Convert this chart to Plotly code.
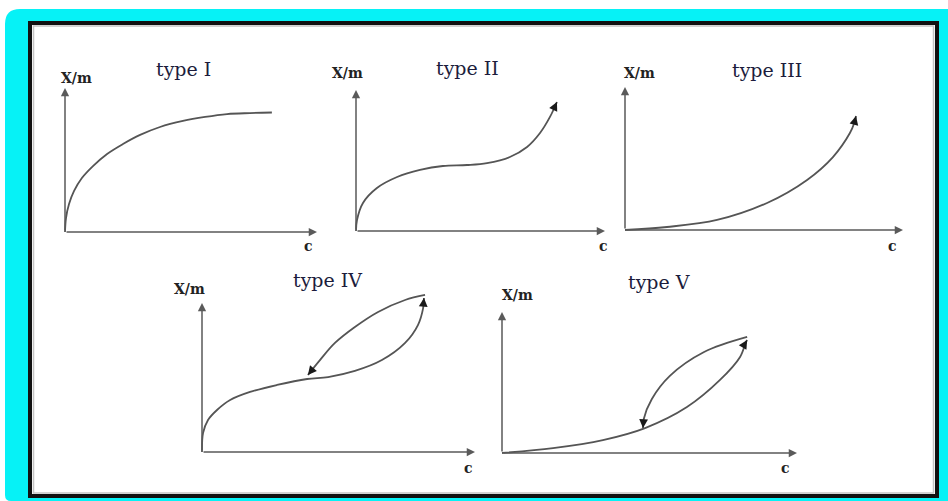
import math
import plotly.graph_objects as go

# ---------------------------------------------------------------
# Adsorption isotherm types (X/m against concentration c)
# ---------------------------------------------------------------
titles = ["type I", "type II", "type III", "type IV", "type V"]
y_label = "X/m"
x_label = "c"

# type I - monolayer, levelling off
type1_c = [0.0, 0.04, 0.16, 0.36, 0.67, 1.11, 1.67, 2.30, 2.98, 3.77, 4.68, 5.56, 6.43, 7.34, 8.21]
type1_xm = [0.0, 0.97, 1.94, 2.85, 3.75, 4.58, 5.42, 6.11, 6.74, 7.29, 7.71, 7.99, 8.19, 8.26, 8.30]

# type II - monolayer then multilayer
type2_c = [0.0, 0.04, 0.28, 0.84, 1.65, 2.57, 3.49, 4.46, 5.26, 6.18, 6.87, 7.39, 7.79, 8.07]
type2_xm = [0.0, 0.78, 1.99, 3.05, 3.83, 4.33, 4.61, 4.68, 4.82, 5.25, 5.96, 6.95, 8.09, 9.15]

# type III - weak adsorbate/adsorbent interaction
type3_c = [0.0, 1.51, 3.31, 5.11, 6.55, 7.48, 8.09, 8.25, 8.31]
type3_xm = [0.0, 0.21, 0.70, 1.89, 3.50, 5.10, 6.78, 7.50, 7.97]

# type IV - adsorption branch and desorption (hysteresis) branch
type4_ads_c = [0.0, 0.04, 0.22, 0.55, 1.03, 1.76, 2.75, 3.85, 4.62, 5.60, 6.59, 7.44, 7.91, 8.10, 8.13]
type4_ads_xm = [0.0, 1.28, 2.15, 2.82, 3.49, 4.03, 4.50, 4.90, 5.03, 5.44, 6.17, 7.32, 8.52, 9.66, 10.34]
type4_des_c = [8.17, 7.44, 6.45, 5.60, 4.87, 4.32, 3.88]
type4_des_xm = [10.54, 10.20, 9.40, 8.39, 7.32, 6.17, 5.17]

# type V - weak interaction with hysteresis
type5_ads_c = [0.0, 1.73, 3.42, 4.85, 6.27, 7.39, 8.07, 8.27, 8.31]
type5_ads_xm = [0.0, 0.35, 0.92, 1.77, 3.26, 5.18, 6.81, 7.87, 8.01]
type5_des_c = [8.31, 6.85, 5.69, 5.08, 4.80, 4.78]
type5_des_xm = [8.23, 7.16, 5.47, 3.83, 2.38, 1.77]

# ---------------------------------------------------------------
# Page geometry (pixels)
# ---------------------------------------------------------------
W, H = 948, 501
# origin x, origin y, x-axis end, y-axis top
panels = [
    (65, 232, 317, 88),
    (356, 231, 605, 90),
    (625, 230, 903, 87),
    (202, 452, 475, 303),
    (502, 453, 797, 312),
]
X_RANGE = (-0.6, 11.0)
Y_RANGE = (-0.6, 11.2)
AXIS_LEN = 10.0

CURVE = "#555555"
AXIS = "#5a5a5a"
HEAD = "#1a1a1a"
TITLE = "#1c1c3c"
LABEL = "#222222"
SERIF = "DejaVu Serif"


def fx(x):
    return x / W


def fy(y):
    return 1 - y / H


fig = go.Figure()
layout_axes = {}
annotations = []
scales = []

for k, (ox, oy, xe, yt) in enumerate(panels):
    sx = (xe - ox) / AXIS_LEN
    sy = (oy - yt) / AXIS_LEN
    scales.append((sx, sy))
    left = ox + X_RANGE[0] * sx
    right = ox + X_RANGE[1] * sx
    bottom = oy - Y_RANGE[0] * sy
    top = oy - Y_RANGE[1] * sy
    n = "" if k == 0 else str(k + 1)
    layout_axes["xaxis" + n] = dict(domain=[fx(left), fx(right)], range=list(X_RANGE),
                                    visible=False, fixedrange=True, anchor="y" + n)
    layout_axes["yaxis" + n] = dict(domain=[fy(bottom), fy(top)], range=list(Y_RANGE),
                                    visible=False, fixedrange=True, anchor="x" + n)
    xa, ya = "x" + n, "y" + n
    # axis lines with arrowheads
    for (tx, ty) in [(AXIS_LEN, 0), (0, AXIS_LEN)]:
        annotations.append(dict(x=tx, y=ty, ax=0, ay=0, xref=xa, yref=ya,
                                axref=xa, ayref=ya, text="", showarrow=True,
                                arrowhead=2, arrowsize=1.1, arrowwidth=1.5,
                                arrowcolor=AXIS))


def axes_of(k):
    n = "" if k == 0 else str(k + 1)
    return "x" + n, "y" + n


def curve(k, c, xm):
    xa, ya = axes_of(k)
    fig.add_trace(go.Scatter(x=c, y=xm, mode="lines", xaxis=xa, yaxis=ya,
                             line=dict(color=CURVE, width=1.8, shape="spline", smoothing=1.0),
                             hoverinfo="skip", showlegend=False))


def end_arrow(k, c, xm, tip, prev):
    xa, ya = axes_of(k)
    sx, sy = scales[k]
    dx = (c[tip] - c[prev]) * sx
    dy = (xm[tip] - xm[prev]) * sy
    d = math.hypot(dx, dy)
    annotations.append(dict(x=c[tip], y=xm[tip], xref=xa, yref=ya,
                            ax=-dx / d * 9, ay=dy / d * 9, text="", showarrow=True,
                            arrowhead=2, arrowsize=1.1, arrowwidth=1.6,
                            arrowcolor=HEAD, standoff=0))


curve(0, type1_c, type1_xm)
curve(1, type2_c, type2_xm)
end_arrow(1, type2_c, type2_xm, -1, -2)
curve(2, type3_c, type3_xm)
end_arrow(2, type3_c, type3_xm, -1, -2)
curve(3, type4_ads_c, type4_ads_xm)
end_arrow(3, type4_ads_c, type4_ads_xm, -1, -2)
curve(3, type4_des_c, type4_des_xm)
end_arrow(3, type4_des_c, type4_des_xm, -1, -2)
curve(4, type5_ads_c, type5_ads_xm)
end_arrow(4, type5_ads_c, type5_ads_xm, -1, -2)
curve(4, type5_des_c, type5_des_xm)
end_arrow(4, type5_des_c, type5_des_xm, -1, -2)

# panel titles and axis names (pixel centres)
title_pos = [(183, 69), (467, 68), (767, 70), (327, 280), (659, 282)]
ylab_pos = [(76, 78), (347, 73), (639, 73), (189, 289), (517, 295)]
xlab_pos = [(308, 246), (603, 246), (892, 246), (468, 468), (785, 468)]

for t, (x, y) in zip(titles, title_pos):
    annotations.append(dict(x=fx(x), y=fy(y), xref="paper", yref="paper", text=t,
                            showarrow=False, xanchor="center", yanchor="middle",
                            font=dict(family=SERIF, size=19, color=TITLE)))
for (x, y) in ylab_pos:
    annotations.append(dict(x=fx(x), y=fy(y), xref="paper", yref="paper", text=y_label,
                            showarrow=False, xanchor="center", yanchor="middle",
                            font=dict(family=SERIF, size=14, color=LABEL, weight="bold")))
for (x, y) in xlab_pos:
    annotations.append(dict(x=fx(x), y=fy(y), xref="paper", yref="paper", text=x_label,
                            showarrow=False, xanchor="center", yanchor="middle",
                            font=dict(family=SERIF, size=14, color=LABEL, weight="bold")))

# frame: rounded cyan band and a black-bordered white card
x0, y0, x1, y1, r, rb = 5, 9, W, H, 15, 6
band = (f"M {fx(x0)},{fy(y0 + r)} Q {fx(x0)},{fy(y0)} {fx(x0 + r)},{fy(y0)} "
        f"L {fx(x1)},{fy(y0)} L {fx(x1)},{fy(y1)} L {fx(x0 + rb)},{fy(y1)} "
        f"Q {fx(x0)},{fy(y1)} {fx(x0)},{fy(y1 - rb)} Z")
shapes = [
    dict(type="path", path=band, xref="paper", yref="paper",
         fillcolor="#06f2f6", line=dict(width=0), layer="below"),
    dict(type="rect", xref="paper", yref="paper", x0=fx(30), x1=fx(937), y0=fy(23), y1=fy(496),
         fillcolor="white", line=dict(color="#111111", width=4), layer="below"),
    dict(type="rect", xref="paper", yref="paper", x0=fx(33.5), x1=fx(933.5), y0=fy(26), y1=fy(493),
         fillcolor="rgba(0,0,0,0)", line=dict(color="#c4c4c4", width=1.5), layer="below"),
]

fig.update_layout(width=W, height=H, margin=dict(l=0, r=0, t=0, b=0),
                  paper_bgcolor="white", plot_bgcolor="rgba(0,0,0,0)",
                  annotations=annotations, shapes=shapes, **layout_axes)

fig.write_html("out.html", config={"displayModeBar": False})
